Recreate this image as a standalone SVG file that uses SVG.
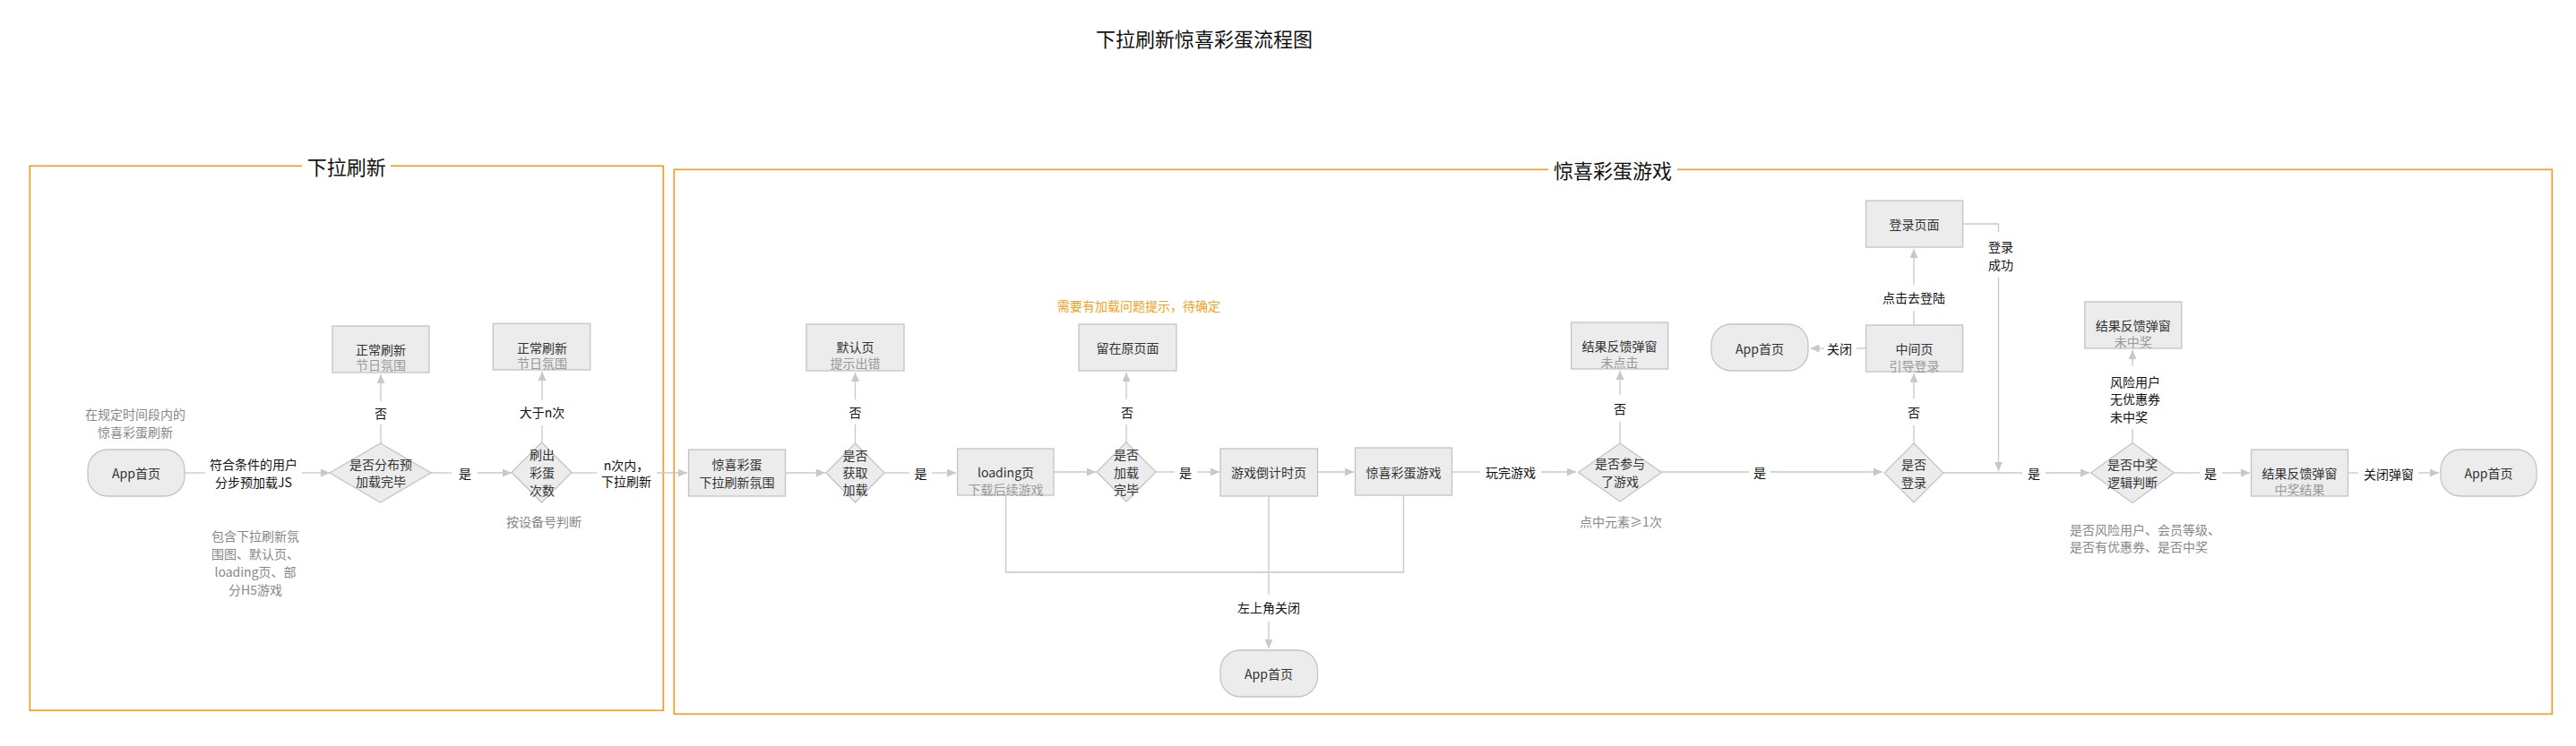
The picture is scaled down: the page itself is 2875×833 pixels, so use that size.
<svg xmlns="http://www.w3.org/2000/svg" width="2875" height="833" viewBox="0 0 2875 833">
<style>
.t{font-family:"Noto Sans CJK SC","Noto Sans",sans-serif;font-size:14px;text-anchor:middle;dominant-baseline:central;fill:#333}
.lab{fill:#111}
.sub{fill:#999}
.note{fill:#888}
.org{fill:#f5a020}
.left{text-anchor:start}
.title{font-size:22px;fill:#111}
.box{fill:#ececec;stroke:#c4c4c4;stroke-width:1.3}
.ln{fill:none;stroke:#c8c8c8;stroke-width:1.3}
.frame{fill:none;stroke:#f59a1b;stroke-width:1.6}
</style>
<defs>
<marker id="ah" markerUnits="userSpaceOnUse" markerWidth="10" markerHeight="9" refX="10" refY="4.5" orient="auto">
<path d="M0,0 L10,4.5 L0,9 z" fill="#c8c8c8"/>
</marker>
</defs>
<rect width="2875" height="833" fill="#fff"/>
<text class="t title" x="1344" y="42">下拉刷新惊喜彩蛋流程图</text>

<g id="frame-pull">
<rect class="frame" x="33.3" y="185.3" width="707" height="608"/>
<rect x="337" y="174" width="99" height="24" fill="#fff"/>
<text class="t title" x="386.8" y="185">下拉刷新</text>
</g>
<g id="frame-game">
<rect class="frame" x="752.3" y="189.3" width="2096" height="608"/>
<rect x="1728" y="178" width="144" height="24" fill="#fff"/>
<text class="t title" x="1800" y="189">惊喜彩蛋游戏</text>
</g>

<g id="connectors">
<path class="ln" d="M206,528 H229"/>
<path class="ln" d="M337,528 H368" marker-end="url(#ah)"/>
<path class="ln" d="M425,495 V474"/>
<path class="ln" d="M425,448 V418" marker-end="url(#ah)"/>
<path class="ln" d="M481,528 H504"/>
<path class="ln" d="M533,528 H571" marker-end="url(#ah)"/>
<path class="ln" d="M605,494 V475"/>
<path class="ln" d="M605,447 V415" marker-end="url(#ah)"/>
<path class="ln" d="M638,528 H666"/>
<path class="ln" d="M733,528 H767" marker-end="url(#ah)"/>
<path class="ln" d="M876.5,528 H921" marker-end="url(#ah)"/>
<path class="ln" d="M954.5,495 V474"/>
<path class="ln" d="M954.5,446 V416" marker-end="url(#ah)"/>
<path class="ln" d="M987,528 H1015"/>
<path class="ln" d="M1040,528 H1067" marker-end="url(#ah)"/>
<path class="ln" d="M1176,527 H1223" marker-end="url(#ah)"/>
<path class="ln" d="M1257,494 V474"/>
<path class="ln" d="M1257,446 V416" marker-end="url(#ah)"/>
<path class="ln" d="M1290,527 H1311"/>
<path class="ln" d="M1336,527 H1361" marker-end="url(#ah)"/>
<path class="ln" d="M1470.5,527 H1511" marker-end="url(#ah)"/>
<path class="ln" d="M1122.6,553 V639 H1566.5 V553"/>
<path class="ln" d="M1416,554 V664"/>
<path class="ln" d="M1416,694 V724" marker-end="url(#ah)"/>
<path class="ln" d="M1620.5,527 H1652"/>
<path class="ln" d="M1720,527 H1759" marker-end="url(#ah)"/>
<path class="ln" d="M1808,495 V471"/>
<path class="ln" d="M1808,441 V414" marker-end="url(#ah)"/>
<path class="ln" d="M1854,527 H1952"/>
<path class="ln" d="M1976,527 H2101" marker-end="url(#ah)"/>
<path class="ln" d="M2136,495 V475"/>
<path class="ln" d="M2136,445 V417" marker-end="url(#ah)"/>
<path class="ln" d="M2082.6,389 H2072"/>
<path class="ln" d="M2036,389 H2020.5" marker-end="url(#ah)"/>
<path class="ln" d="M2136,363 V347"/>
<path class="ln" d="M2136,318 V278" marker-end="url(#ah)"/>
<path class="ln" d="M2190.5,250 H2230.5 V259"/>
<path class="ln" d="M2230.5,309 V526" marker-end="url(#ah)"/>
<path class="ln" d="M2169,528 H2257"/>
<path class="ln" d="M2283,528 H2332" marker-end="url(#ah)"/>
<path class="ln" d="M2380,494 V479"/>
<path class="ln" d="M2380,409 V391" marker-end="url(#ah)"/>
<path class="ln" d="M2427,528 H2455"/>
<path class="ln" d="M2480,528 H2511" marker-end="url(#ah)"/>
<path class="ln" d="M2620,528 H2632"/>
<path class="ln" d="M2699,528 H2722" marker-end="url(#ah)"/>

<text class="t lab" x="283" y="518">符合条件的用户</text>
<text class="t lab" x="283" y="538">分步预加载JS</text>
<text class="t lab" x="425" y="461">否</text>
<text class="t lab" x="519" y="528">是</text>
<text class="t lab" x="605" y="460">大于n次</text>
<text class="t lab" x="699" y="519">n次内，</text>
<text class="t lab" x="699" y="537">下拉刷新</text>
<text class="t lab" x="954.5" y="460">否</text>
<text class="t lab" x="1027.5" y="528">是</text>
<text class="t lab" x="1258" y="460">否</text>
<text class="t lab" x="1323" y="527">是</text>
<text class="t lab" x="1416" y="678">左上角关闭</text>
<text class="t lab" x="1686" y="527">玩完游戏</text>
<text class="t lab" x="1808" y="456">否</text>
<text class="t lab" x="1964" y="527">是</text>
<text class="t lab" x="2136" y="460">否</text>
<text class="t lab" x="2053" y="389">关闭</text>
<text class="t lab" x="2136" y="332">点击去登陆</text>
<text class="t lab" x="2233" y="275">登录</text>
<text class="t lab" x="2233" y="295">成功</text>
<text class="t lab" x="2270" y="528">是</text>
<text class="t lab left" x="2355" y="426">风险用户</text>
<text class="t lab left" x="2355" y="445">无优惠券</text>
<text class="t lab left" x="2355" y="465">未中奖</text>
<text class="t lab" x="2467" y="528">是</text>
<text class="t lab" x="2666" y="529">关闭弹窗</text>
</g>

<g id="note-time">
<text class="t note" x="151" y="462">在规定时间段内的</text>
<text class="t note" x="151" y="482">惊喜彩蛋刷新</text>
</g>
<g id="note-preload">
<text class="t note" x="285" y="598">包含下拉刷新氛</text>
<text class="t note" x="285" y="618">围图、默认页、</text>
<text class="t note" x="285" y="638">loading页、部</text>
<text class="t note" x="285" y="658">分H5游戏</text>
</g>
<g id="note-device">
<text class="t note" x="607" y="582">按设备号判断</text>
</g>
<g id="note-load">
<text class="t org" x="1271" y="341">需要有加载问题提示，待确定</text>
</g>
<g id="note-click">
<text class="t note" x="1809" y="582">点中元素≥1次</text>
</g>
<g id="note-prize">
<text class="t note left" x="2310" y="591">是否风险用户、会员等级、</text>
<text class="t note left" x="2310" y="610">是否有优惠券、是否中奖</text>
</g>

<g id="app-home-1">
<rect class="box" x="98" y="502" width="108" height="52" rx="22"/>
<text class="t" x="152" y="528">App首页</text>
</g>
<g id="d-preload">
<polygon class="box" points="368,528 424.5,495 481,528 424.5,561"/>
<text class="t" x="425" y="518">是否分布预</text>
<text class="t" x="425" y="537">加载完毕</text>
</g>
<g id="normal-refresh-1">
<rect class="box" x="371" y="364" width="108" height="52"/>
<text class="t" x="425" y="390">正常刷新</text>
<text class="t sub" x="425" y="407">节日氛围</text>
</g>
<g id="d-count">
<polygon class="box" points="571,527.5 604.5,494 638,527.5 604.5,561"/>
<text class="t" x="605" y="507">刷出</text>
<text class="t" x="605" y="527">彩蛋</text>
<text class="t" x="605" y="547">次数</text>
</g>
<g id="normal-refresh-2">
<rect class="box" x="550.3" y="361.3" width="108.4" height="51.7"/>
<text class="t" x="605" y="388">正常刷新</text>
<text class="t sub" x="605" y="405">节日氛围</text>
</g>
<g id="egg-atmos">
<rect class="box" x="768.5" y="502" width="108" height="52"/>
<text class="t" x="822.5" y="518">惊喜彩蛋</text>
<text class="t" x="822.5" y="538">下拉刷新氛围</text>
</g>
<g id="d-fetch">
<polygon class="box" points="922,528 954.5,495 987,528 954.5,561"/>
<text class="t" x="954.5" y="508">是否</text>
<text class="t" x="954.5" y="527">获取</text>
<text class="t" x="954.5" y="546">加载</text>
</g>
<g id="default-page">
<rect class="box" x="900" y="362" width="109" height="52"/>
<text class="t" x="954.5" y="387">默认页</text>
<text class="t sub" x="954.5" y="405">提示出错</text>
</g>
<g id="loading-page">
<rect class="box" x="1068.6" y="501" width="107.4" height="52"/>
<text class="t" x="1122.5" y="527">loading页</text>
<text class="t sub" x="1122.5" y="546">下载后续游戏</text>
</g>
<g id="d-loaded">
<polygon class="box" points="1224,527 1257,494 1290,527 1257,560"/>
<text class="t" x="1257" y="507">是否</text>
<text class="t" x="1257" y="527">加载</text>
<text class="t" x="1257" y="546">完毕</text>
</g>
<g id="stay-page">
<rect class="box" x="1204" y="362" width="109" height="52"/>
<text class="t" x="1258.5" y="388">留在原页面</text>
</g>
<g id="countdown">
<rect class="box" x="1362" y="501" width="108.5" height="53"/>
<text class="t" x="1416" y="527">游戏倒计时页</text>
</g>
<g id="egg-game">
<rect class="box" x="1512.5" y="500" width="108" height="53"/>
<text class="t" x="1566.5" y="527">惊喜彩蛋游戏</text>
</g>
<g id="app-home-2">
<rect class="box" x="1362" y="726" width="108.5" height="52" rx="22"/>
<text class="t" x="1416" y="752">App首页</text>
</g>
<g id="d-played">
<polygon class="box" points="1761.5,527.5 1808,495 1854.5,527.5 1808,560"/>
<text class="t" x="1808" y="517">是否参与</text>
<text class="t" x="1808" y="537">了游戏</text>
</g>
<g id="result-noclick">
<rect class="box" x="1753.6" y="360" width="108" height="52"/>
<text class="t" x="1807.6" y="386">结果反馈弹窗</text>
<text class="t sub" x="1807.6" y="404">未点击</text>
</g>
<g id="app-home-3">
<rect class="box" x="1910" y="362" width="108" height="52" rx="22"/>
<text class="t" x="1964" y="389">App首页</text>
</g>
<g id="middle-page">
<rect class="box" x="2082.6" y="363" width="108" height="52"/>
<text class="t" x="2136.6" y="389">中间页</text>
<text class="t sub" x="2136.6" y="408">引导登录</text>
</g>
<g id="login-page">
<rect class="box" x="2082.6" y="224" width="108" height="52"/>
<text class="t" x="2136.6" y="250">登录页面</text>
</g>
<g id="d-login">
<polygon class="box" points="2103,528 2136,495 2169,528 2136,561"/>
<text class="t" x="2136" y="518">是否</text>
<text class="t" x="2136" y="538">登录</text>
</g>
<g id="d-prize">
<polygon class="box" points="2333.5,528 2380,494.5 2426.5,528 2380,561.5"/>
<text class="t" x="2380" y="518">是否中奖</text>
<text class="t" x="2380" y="538">逻辑判断</text>
</g>
<g id="result-noprize">
<rect class="box" x="2326.8" y="337" width="108" height="52"/>
<text class="t" x="2380.8" y="363">结果反馈弹窗</text>
<text class="t sub" x="2380.8" y="381">未中奖</text>
</g>
<g id="result-prize">
<rect class="box" x="2512.5" y="502" width="108" height="52"/>
<text class="t" x="2566.5" y="528">结果反馈弹窗</text>
<text class="t sub" x="2566.5" y="546">中奖结果</text>
</g>
<g id="app-home-4">
<rect class="box" x="2724" y="502" width="107" height="52" rx="22"/>
<text class="t" x="2777.5" y="528">App首页</text>
</g>
</svg>
